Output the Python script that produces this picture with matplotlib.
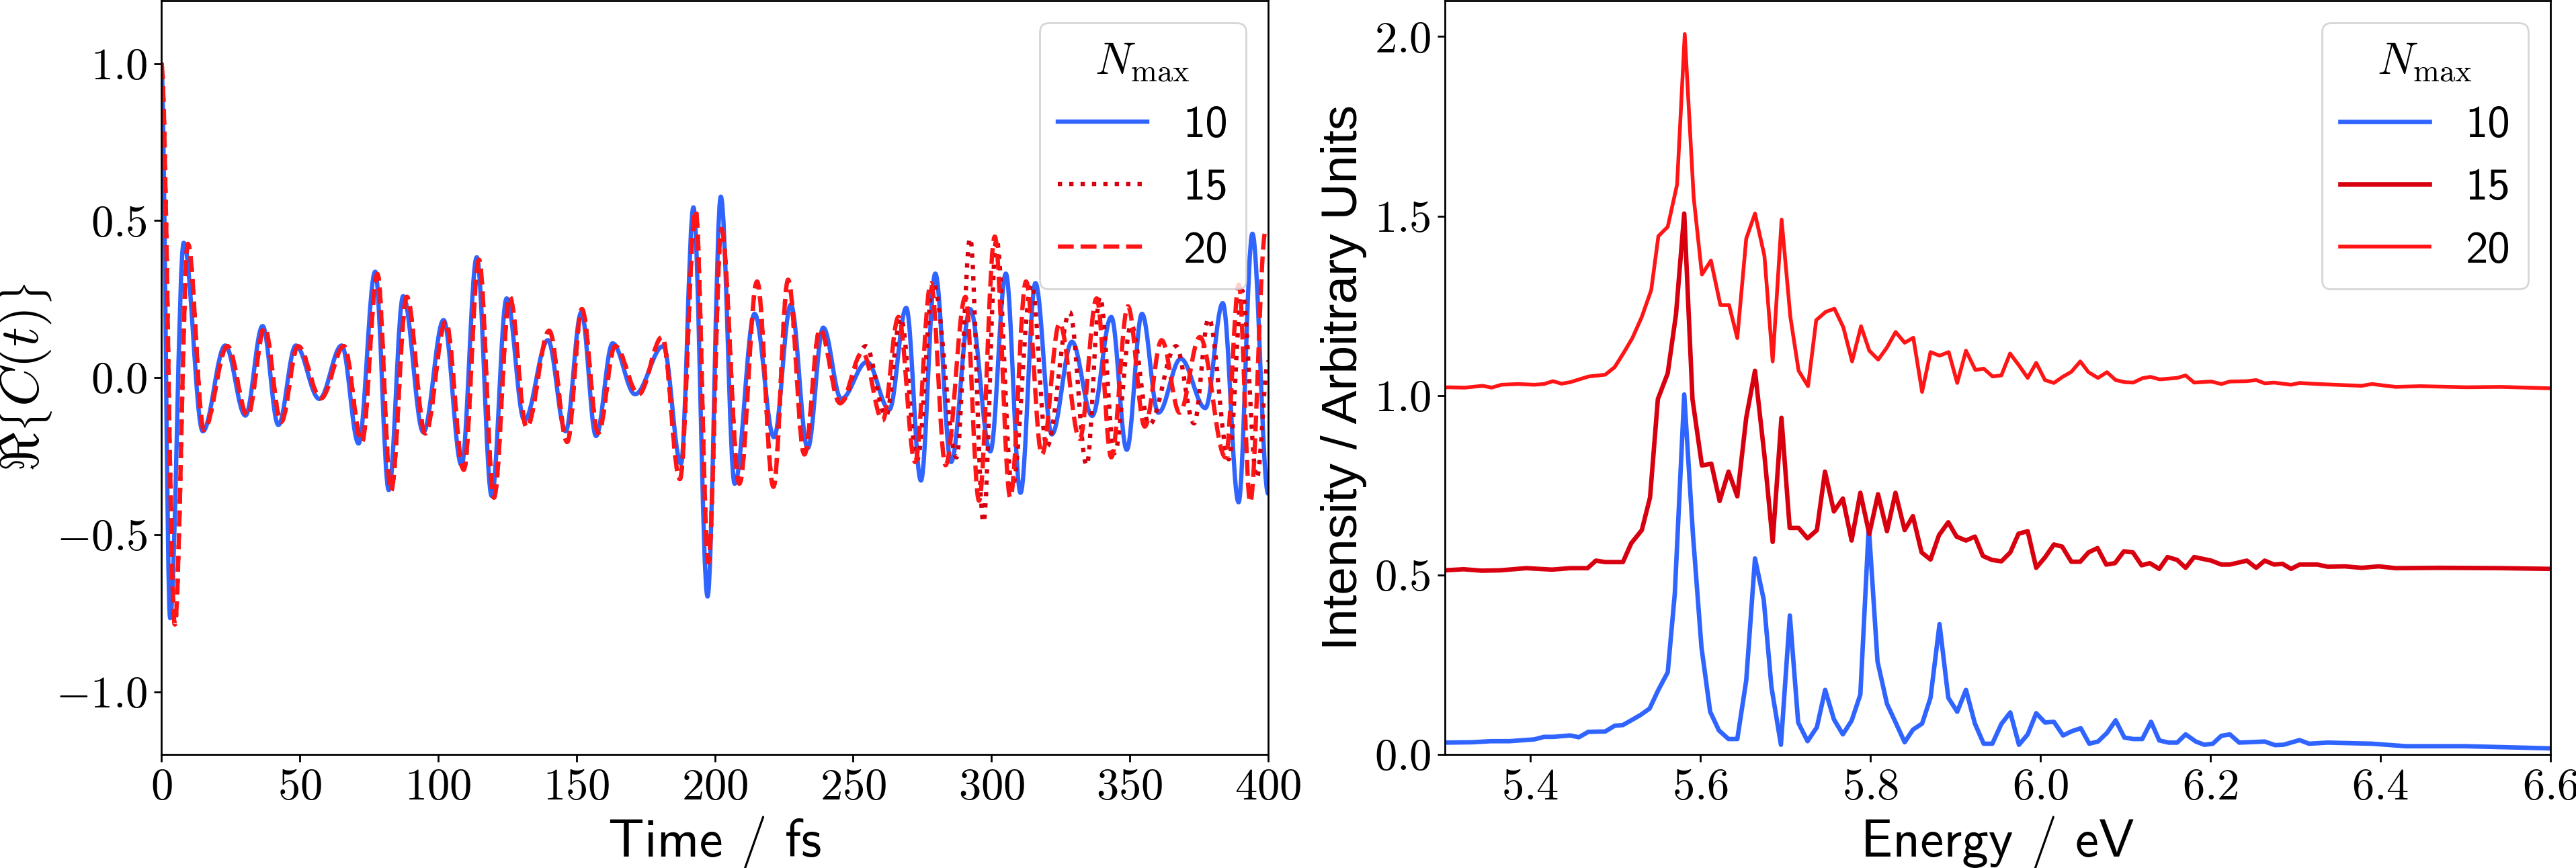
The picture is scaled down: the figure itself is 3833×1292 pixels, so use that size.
import matplotlib
matplotlib.use('Agg')
import matplotlib.pyplot as plt
from matplotlib.path import Path
from matplotlib.patches import PathPatch
from matplotlib.lines import Line2D

plt.rcParams.update({
    'font.family': 'cmr10',
    'mathtext.fontset': 'cm',
    'axes.formatter.use_mathtext': True,
    'axes.unicode_minus': True,
})

# ---------------- data: autocorrelation (turning points) -------------
t10 = [0, 3.2, 8.1, 15.0, 23.1, 30.4, 36.6, 42.3, 48.6, 57.1,
       65.2, 71.3, 77.3, 82.2, 87.4, 94.7, 102.0, 108.5, 114.0, 119.4,
       124.8, 131.2, 139.7, 146.1, 151.8, 157.1, 163.1, 171.2, 181.4, 187.8,
       192.3, 197.4, 202.2, 207.2, 214.4, 221.4, 227.5, 233.6, 239.2, 245.7,
       255.0, 263.1, 269.2, 274.5, 279.7, 285.4, 292.3, 299.6, 305.2, 310.5,
       315.9, 321.8, 329.1, 336.4, 343.3, 348.9, 354.4, 360.3, 368.4, 377.3,
       383.6, 389.3, 394.3, 400.0]
c10 = [1.0, -0.766, 0.429, -0.171, 0.102, -0.121, 0.164, -0.151, 0.102, -0.068,
       0.102, -0.210, 0.337, -0.358, 0.259, -0.174, 0.183, -0.279, 0.383, -0.377,
       0.252, -0.136, 0.119, -0.171, 0.208, -0.186, 0.109, -0.053, 0.100, -0.274,
       0.542, -0.697, 0.576, -0.338, 0.203, -0.190, 0.232, -0.225, 0.159, -0.068,
       0.050, -0.102, 0.222, -0.328, 0.331, -0.269, 0.218, -0.235, 0.331, -0.367,
       0.301, -0.181, 0.114, -0.122, 0.193, -0.230, 0.203, -0.112, 0.060, -0.097,
       0.237, -0.397, 0.458, -0.370]

t20 = [0, 4.9, 9.6, 15.4, 23.9, 31.2, 37.3, 43.3, 49.4, 57.7,
       66.0, 72.5, 78.1, 83.0, 88.7, 95.4, 102.8, 109.3, 114.8, 120.2,
       125.9, 132.0, 140.2, 146.7, 152.0, 157.9, 164.0, 172.5, 181.0, 187.4,
       193.1, 197.7, 202.4, 208.9, 215.3, 221.2, 226.5, 232.4, 238.0, 245.3,
       253.4, 260.7, 266.4, 272.4, 278.1, 283.4, 290.6, 295.5, 301.2, 306.8,
       312.5, 318.2, 324.6, 331.9, 338.0, 343.3, 349.3, 355.4, 361.5, 368.0,
       375.3, 384.6, 389.4, 393.5, 399.1, 400.0]
c20 = [1.0, -0.786, 0.426, -0.166, 0.100, -0.121, 0.159, -0.141, 0.100, -0.066,
       0.100, -0.205, 0.330, -0.361, 0.257, -0.178, 0.178, -0.294, 0.375, -0.382,
       0.257, -0.158, 0.149, -0.205, 0.218, -0.176, 0.100, -0.053, 0.129, -0.323,
       0.532, -0.589, 0.473, -0.338, 0.306, -0.348, 0.311, -0.245, 0.154, -0.082,
       0.080, -0.136, 0.193, -0.269, 0.301, -0.279, 0.257, -0.392, 0.449, -0.382,
       0.306, -0.245, 0.173, -0.195, 0.252, -0.254, 0.227, -0.156, 0.119, -0.112,
       0.129, -0.254, 0.296, -0.397, 0.468, 0.460]

t15 = t20[:40] + [254.6, 261.9, 267.2, 273.2, 279.0, 287.4, 292.3, 297.1, 301.8, 307.5,
                  314.5, 320.0, 328.3, 334.4, 339.2, 344.5, 350.5, 357.0, 366.7, 373.2,
                  378.5, 385.8, 390.6, 395.9, 400.0]
c15 = c20[:40] + [0.100, -0.122, 0.190, -0.260, 0.300, -0.254, 0.444, -0.461, 0.440, -0.350,
                  0.296, -0.220, 0.208, -0.279, 0.257, -0.240, 0.168, -0.150, 0.100, -0.146,
                  0.188, -0.260, 0.277, -0.320, 0.050]

# ---------------- data: spectra (vertices) ----------------
E10 = [5.300, 5.332, 5.354, 5.376, 5.405, 5.4165, 5.4275, 5.447, 5.4575, 5.4686,
       5.4885, 5.4996, 5.5093, 5.519, 5.530, 5.5407, 5.551, 5.562, 5.5703, 5.5814,
       5.5917, 5.6017, 5.6119, 5.6222, 5.6335, 5.6438, 5.6543, 5.6646, 5.6749, 5.684,
       5.6951, 5.7056, 5.7154, 5.7264, 5.7374, 5.7471, 5.7574, 5.7679, 5.7782, 5.7885,
       5.7984, 5.8087, 5.8198, 5.830, 5.8406, 5.8503, 5.8611, 5.871, 5.8816, 5.8919,
       5.9024, 5.9127, 5.9232, 5.9335, 5.9437, 5.9543, 5.9648, 5.9750, 5.9853, 5.9953,
       6.0056, 6.0161, 6.0269, 6.0374, 6.0477, 6.0577, 6.0679, 6.0785, 6.0887, 6.0990,
       6.1095, 6.12, 6.1303, 6.14, 6.1511, 6.161, 6.171, 6.183, 6.193, 6.203,
       6.213, 6.223, 6.234, 6.264, 6.276, 6.286, 6.305, 6.316, 6.338, 6.39,
       6.43, 6.499, 6.6]
I10 = [0.033, 0.034, 0.037, 0.037, 0.042, 0.049, 0.049, 0.053, 0.048, 0.063,
       0.064, 0.080, 0.082, 0.095, 0.110, 0.128, 0.180, 0.229, 0.448, 1.003,
       0.611, 0.298, 0.119, 0.067, 0.043, 0.043, 0.206, 0.546, 0.431, 0.187,
       0.027, 0.387, 0.089, 0.037, 0.076, 0.180, 0.098, 0.056, 0.094, 0.167,
       0.635, 0.259, 0.141, 0.089, 0.034, 0.069, 0.086, 0.158, 0.363, 0.158,
       0.119, 0.180, 0.086, 0.030, 0.030, 0.085, 0.117, 0.027, 0.056, 0.115,
       0.089, 0.091, 0.053, 0.065, 0.073, 0.030, 0.036, 0.060, 0.095, 0.047,
       0.043, 0.043, 0.091, 0.039, 0.033, 0.033, 0.056, 0.036, 0.027, 0.030,
       0.052, 0.056, 0.033, 0.036, 0.026, 0.027, 0.040, 0.030, 0.033, 0.030,
       0.023, 0.023, 0.017]

E15 = [5.300, 5.322, 5.343, 5.365, 5.3957, 5.426, 5.447, 5.4677, 5.4775, 5.4885,
       5.5093, 5.519, 5.5315, 5.5412, 5.5504, 5.562, 5.5717, 5.5814, 5.5911, 5.6022,
       5.6133, 5.623, 5.6335, 5.6438, 5.6543, 5.6646, 5.6757, 5.6854, 5.6957, 5.7054,
       5.7159, 5.7264, 5.7374, 5.7469, 5.7574, 5.7679, 5.7782, 5.7885, 5.7990, 5.8093,
       5.8198, 5.8298, 5.8406, 5.8503, 5.8605, 5.871, 5.881, 5.8919, 5.9016, 5.9127,
       5.9232, 5.9326, 5.9432, 5.9543, 5.9648, 5.9745, 5.9853, 5.9953, 6.0056, 6.0161,
       6.0258, 6.0366, 6.0471, 6.0568, 6.0674, 6.0776, 6.0879, 6.0984, 6.1090, 6.1192,
       6.1289, 6.1400, 6.1497, 6.161, 6.171, 6.181, 6.201, 6.213, 6.223, 6.243,
       6.254, 6.264, 6.275, 6.285, 6.295, 6.305, 6.326, 6.338, 6.358, 6.378,
       6.398, 6.418, 6.47, 6.542, 6.6]
I15 = [0.513, 0.516, 0.512, 0.513, 0.519, 0.515, 0.519, 0.519, 0.540, 0.536,
       0.536, 0.588, 0.625, 0.716, 0.990, 1.062, 1.226, 1.507, 0.990, 0.805,
       0.810, 0.706, 0.788, 0.719, 0.938, 1.069, 0.833, 0.592, 0.938, 0.631,
       0.631, 0.602, 0.625, 0.788, 0.677, 0.713, 0.596, 0.729, 0.614, 0.725,
       0.622, 0.729, 0.625, 0.664, 0.563, 0.543, 0.611, 0.647, 0.607, 0.596,
       0.607, 0.553, 0.542, 0.538, 0.563, 0.615, 0.622, 0.520, 0.549, 0.585,
       0.579, 0.537, 0.537, 0.563, 0.575, 0.529, 0.533, 0.566, 0.563, 0.527,
       0.533, 0.517, 0.550, 0.542, 0.520, 0.550, 0.540, 0.529, 0.529, 0.540,
       0.520, 0.540, 0.529, 0.531, 0.517, 0.529, 0.529, 0.523, 0.524, 0.520,
       0.524, 0.519, 0.520, 0.519, 0.517]

E20 = [5.300, 5.3236, 5.3444, 5.3549, 5.3665, 5.386, 5.405, 5.4165, 5.427, 5.437,
       5.447, 5.458, 5.469, 5.4885, 5.4996, 5.5107, 5.5204, 5.5315, 5.5426, 5.551,
       5.562, 5.573, 5.582, 5.5925, 5.6022, 5.6128, 5.6239, 5.6341, 5.6438, 5.6543,
       5.6646, 5.6757, 5.6854, 5.6959, 5.7062, 5.7159, 5.727, 5.7366, 5.7477, 5.758,
       5.7685, 5.7788, 5.7893, 5.799, 5.8095, 5.8198, 5.830, 5.8406, 5.8508, 5.8611,
       5.871, 5.8816, 5.8924, 5.9024, 5.9127, 5.9238, 5.9335, 5.944, 5.9543, 5.9645,
       5.975, 5.9853, 5.9953, 6.0056, 6.0161, 6.0264, 6.0366, 6.0471, 6.0568, 6.0679,
       6.0785, 6.0887, 6.0998, 6.1095, 6.12, 6.1295, 6.1406, 6.161, 6.171, 6.181,
       6.201, 6.213, 6.223, 6.243, 6.254, 6.264, 6.275, 6.295, 6.305, 6.326,
       6.378, 6.39, 6.418, 6.447, 6.501, 6.542, 6.6]
I20 = [1.023, 1.022, 1.027, 1.022, 1.030, 1.032, 1.030, 1.032, 1.040, 1.033,
       1.037, 1.045, 1.053, 1.058, 1.079, 1.121, 1.160, 1.219, 1.294, 1.444,
       1.470, 1.588, 2.007, 1.552, 1.337, 1.376, 1.252, 1.252, 1.160, 1.437,
       1.507, 1.389, 1.095, 1.490, 1.219, 1.069, 1.026, 1.210, 1.233, 1.242,
       1.190, 1.095, 1.193, 1.125, 1.100, 1.134, 1.177, 1.147, 1.161, 1.010,
       1.121, 1.111, 1.121, 1.035, 1.125, 1.071, 1.075, 1.053, 1.056, 1.117,
       1.084, 1.049, 1.091, 1.043, 1.035, 1.052, 1.066, 1.095, 1.065, 1.049,
       1.065, 1.043, 1.037, 1.036, 1.048, 1.052, 1.045, 1.049, 1.056, 1.036,
       1.039, 1.032, 1.039, 1.040, 1.043, 1.034, 1.036, 1.030, 1.035, 1.032,
       1.027, 1.032, 1.024, 1.026, 1.023, 1.024, 1.020]

labels = ['10', '15', '20']
C_BLUE = '#2f64ff'
C_DARK = '#d8000f'
C_RED = '#ff1515'


def smooth_path(t, v):
    """Cubic Bezier path passing through successive turning points (horizontal tangents)."""
    verts = [(t[0], v[0])]
    codes = [Path.MOVETO]
    for i in range(len(t) - 1):
        dt = t[i + 1] - t[i]
        verts += [(t[i] + 0.36 * dt, v[i]), (t[i + 1] - 0.36 * dt, v[i + 1]), (t[i + 1], v[i + 1])]
        codes += [Path.CURVE4] * 3
    return Path(verts, codes)


fig = plt.figure(figsize=(3833 / 200, 1292 / 200), dpi=200)
ax1 = fig.add_axes([240 / 3833, 169 / 1292, 1647 / 3833, 1122 / 1292])
ax2 = fig.add_axes([2150 / 3833, 169 / 1292, 1645 / 3833, 1122 / 1292])

LW = 2.3
styles = [(t10, c10, C_BLUE, '-'), (t15, c15, C_DARK, ':'), (t20, c20, C_RED, '--')]
handles = []
for (tt, cc, col, ls), lab in zip(styles, labels):
    patch = PathPatch(smooth_path(tt, cc), fill=False, edgecolor=col, lw=LW,
                      linestyle=ls, joinstyle='round', capstyle='butt')
    ax1.add_patch(patch)
    handles.append(Line2D([], [], color=col, lw=LW, linestyle=ls))

ax1.set_xlim(0, 400)
ax1.set_ylim(-1.2, 1.2)
ax1.set_xticks([0, 50, 100, 150, 200, 250, 300, 350, 400])
ax1.set_yticks([-1.0, -0.5, 0.0, 0.5, 1.0])
ax1.set_xlabel('Time / fs', fontfamily='cmss10', fontsize=28.5)
ax1.set_ylabel(r'$\Re\left\{C(t)\right\}$', fontsize=29)
ax1.yaxis.set_label_coords(-0.097, 0.5)
ax1.legend(handles, labels, loc='upper right', prop={'family': 'cmss10', 'size': 24},
           title=r'$N_{\max}$', title_fontsize=24)

ax2.plot(E10, I10, color=C_BLUE, lw=2.4, label=labels[0])
ax2.plot(E15, I15, color=C_DARK, lw=2.4, label=labels[1])
ax2.plot(E20, I20, color=C_RED, lw=2.0, label=labels[2])
ax2.set_xlim(5.3, 6.6)
ax2.set_ylim(0, 2.1)
ax2.set_xticks([5.4, 5.6, 5.8, 6.0, 6.2, 6.4, 6.6])
ax2.set_yticks([0.0, 0.5, 1.0, 1.5, 2.0])
ax2.set_xlabel('Energy / eV', fontfamily='cmss10', fontsize=28.5)
ax2.set_ylabel('Intensity / Arbitrary Units', fontfamily='Liberation Sans', fontsize=27)
ax2.legend(loc='upper right', prop={'family': 'cmss10', 'size': 24},
           title=r'$N_{\max}$', title_fontsize=24)

for ax in (ax1, ax2):
    ax.tick_params(labelsize=24, width=1.0, length=4)
    for s in ax.spines.values():
        s.set_linewidth(1.0)

fig.savefig('out.png', dpi=200)
